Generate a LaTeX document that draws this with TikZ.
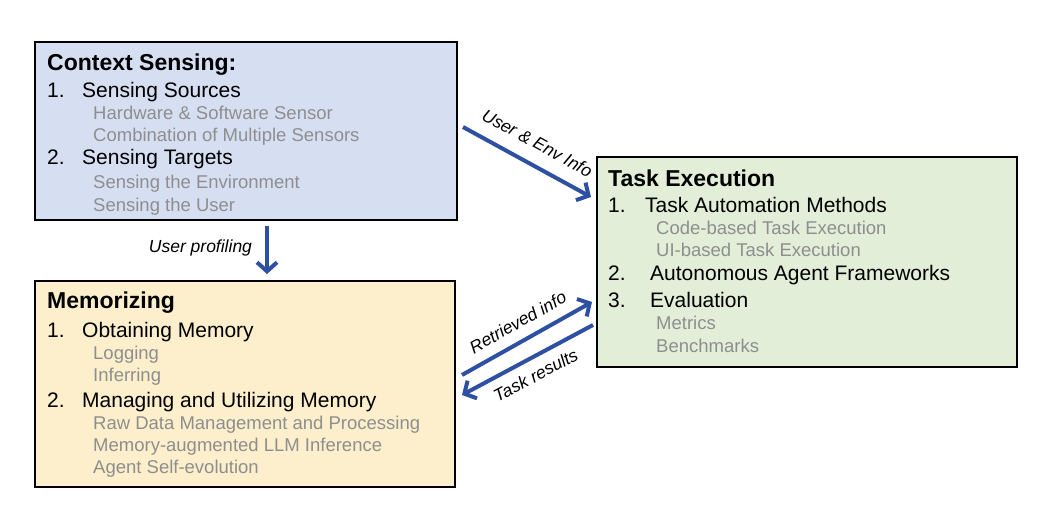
\documentclass[tikz,border=0pt]{standalone}
\usepackage{fontspec}
\setmainfont{Liberation Sans}
\usetikzlibrary{arrows.meta,calc}
\definecolor{csfill}{RGB}{214,223,242}
\definecolor{memfill}{RGB}{253,239,204}
\definecolor{taskfill}{RGB}{226,238,216}
\definecolor{arrblue}{RGB}{46,80,162}
\definecolor{subgray}{RGB}{142,142,142}
\begin{document}
\begin{tikzpicture}[x=1pt,y=-1pt,
 box/.style={draw=black,line width=2pt,anchor=north west,inner sep=0pt,outer sep=0pt},
 ttl/.style={anchor=base west,inner sep=0pt,text height=16.5pt,text depth=4pt,font=\fontsize{23}{27}\selectfont\bfseries},
 itm/.style={anchor=base west,inner sep=0pt,text height=15pt,text depth=4pt,font=\fontsize{21}{25}\selectfont},
 sub/.style={anchor=base west,inner sep=0pt,text height=13.5pt,text depth=3.8pt,text=subgray,font=\fontsize{18.5}{22}\selectfont},
 arr/.style={draw=arrblue,line width=4pt,-{Straight Barb[length=9pt,width=20pt]}},
 lbl/.style={font=\fontsize{17.5}{21}\selectfont\itshape,inner sep=0pt,text height=12.5pt,text depth=3.5pt}]
\useasboundingbox[fill=white] (0,0) rectangle (1049,508);

% boxes
\node[box,fill=csfill,minimum width=422pt,minimum height=178pt] (cs) at (35,42) {};
\node[box,fill=memfill,minimum width=420pt,minimum height=206pt] (mem) at (35,281) {};
\node[box,fill=taskfill,minimum width=420pt,minimum height=210pt] (task) at (597,157) {};

% Context Sensing
\node[ttl] (cst) at (47,71) {Context Sensing:};
\node[itm] (cs1) at (47,97.4) {\makebox[35pt][l]{1.}Sensing Sources};
\node[sub] (cs1a) at (93,119.5) {Hardware \& Software Sensor};
\node[sub] (cs1b) at (93,141.5) {Combination of Multiple Sensors};
\node[itm] (cs2) at (47,164.4) {\makebox[35pt][l]{2.}Sensing Targets};
\node[sub] (cs2a) at (93,188.5) {Sensing the Environment};
\node[sub] (cs2b) at (93,211.5) {Sensing the User};

% Memorizing
\node[ttl] (memt) at (47,308) {Memorizing};
\node[itm] (mem1) at (47,337.4) {\makebox[35pt][l]{1.}Obtaining Memory};
\node[sub] (mem1a) at (93,359.5) {Logging};
\node[sub] (mem1b) at (93,381.5) {Inferring};
\node[itm] (mem2) at (47,407.4) {\makebox[35pt][l]{2.}Managing and Utilizing Memory};
\node[sub] (mem2a) at (93,429.5) {Raw Data Management and Processing};
\node[sub] (mem2b) at (93,451.5) {Memory-augmented LLM Inference};
\node[sub] (mem2c) at (93,473.5) {Agent Self-evolution};

% Task Execution
\node[ttl] (taskt) at (608,186) {Task Execution};
\node[itm] (task1) at (608,212.4) {\makebox[37pt][l]{1.}Task Automation Methods};
\node[sub] (task1a) at (656,234.5) {Code-based Task Execution};
\node[sub] (task1b) at (656,256.5) {UI-based Task Execution};
\node[itm] (task2) at (608,280.4) {\makebox[42pt][l]{2.}Autonomous Agent Frameworks};
\node[itm] (task3) at (608,307.4) {\makebox[42pt][l]{3.}Evaluation};
\node[sub] (task3a) at (656,329.5) {Metrics};
\node[sub] (task3b) at (656,352.5) {Benchmarks};

% connector end points
\coordinate (envS) at ($(cs.north east)+(6,85)$);
\coordinate (envE) at ($(task.north west)+(-6,40)$);
\coordinate (profS) at ($(cs.south west)+(232,6)$);
\coordinate (profE) at ($(mem.north west)+(232,-7)$);
\coordinate (retS) at ($(mem.north east)+(7,94)$);
\coordinate (retE) at ($(task.north west)+(-5,145)$);
\coordinate (resS) at ($(task.north west)+(-4,168)$);
\coordinate (resE) at ($(mem.north east)+(7,114)$);

% connectors
\draw[arr] (envS) -- node[lbl,sloped,above=10pt,midway] (envL) {User \& Env Info} (envE);
\draw[arr] (profS) -- node[lbl,left=13pt,pos=0.45] (profL) {User profiling} (profE);
\draw[arr] (retS) -- node[lbl,sloped,above=7pt,midway] (retL) {Retrieved info} (retE);
\draw[arr] (resS) -- node[lbl,sloped,below=9pt,midway] (resL) {Task results} (resE);
\end{tikzpicture}
\end{document}
